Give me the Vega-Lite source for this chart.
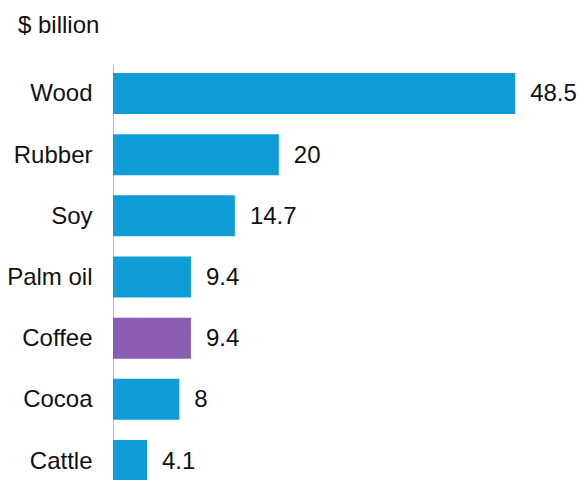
{
  "$schema": "https://vega.github.io/schema/vega-lite/v6.json",
  "autosize": "none",
  "padding": {"left": 113, "top": 64, "right": 0, "bottom": 0},
  "width": 466,
  "height": 426,
  "background": "white",
  "title": {
    "text": "$ billion",
    "anchor": "start",
    "frame": "group",
    "orient": "top",
    "dx": -95,
    "offset": 7,
    "baseline": "alphabetic",
    "font": "Liberation Sans",
    "fontSize": 24,
    "fontWeight": "normal",
    "color": "#111111"
  },
  "data": {
    "values": [
      {"commodity": "Wood", "value": 48.5, "highlight": "no"},
      {"commodity": "Rubber", "value": 20, "highlight": "no"},
      {"commodity": "Soy", "value": 14.7, "highlight": "no"},
      {"commodity": "Palm oil", "value": 9.4, "highlight": "no"},
      {"commodity": "Coffee", "value": 9.4, "highlight": "yes"},
      {"commodity": "Cocoa", "value": 8, "highlight": "no"},
      {"commodity": "Cattle", "value": 4.1, "highlight": "no"}
    ]
  },
  "encoding": {
    "y": {
      "field": "commodity",
      "type": "nominal",
      "sort": null,
      "scale": {"paddingInner": 0.33, "paddingOuter": 0.147},
      "axis": {
        "title": null,
        "ticks": false,
        "labelPadding": 21,
        "labelOffset": 1,
        "labelFont": "Liberation Sans",
        "labelFontSize": 24,
        "labelColor": "#111111",
        "domainColor": "#BFBFBF",
        "domainWidth": 1
      }
    },
    "x": {
      "field": "value",
      "type": "quantitative",
      "scale": {"domain": [0, 56.2], "nice": false},
      "axis": null
    }
  },
  "layer": [
    {
      "mark": {"type": "bar"},
      "encoding": {
        "color": {
          "field": "highlight",
          "type": "nominal",
          "scale": {"domain": ["no", "yes"], "range": ["#0F9DD8", "#8A5DB2"]},
          "legend": null
        }
      }
    },
    {
      "mark": {
        "type": "text",
        "align": "left",
        "baseline": "middle",
        "dx": 15,
        "dy": 1,
        "font": "Liberation Sans",
        "fontSize": 24,
        "color": "#111111"
      },
      "encoding": {
        "text": {"field": "value", "type": "quantitative"}
      }
    }
  ],
  "config": {"view": {"stroke": null}}
}
